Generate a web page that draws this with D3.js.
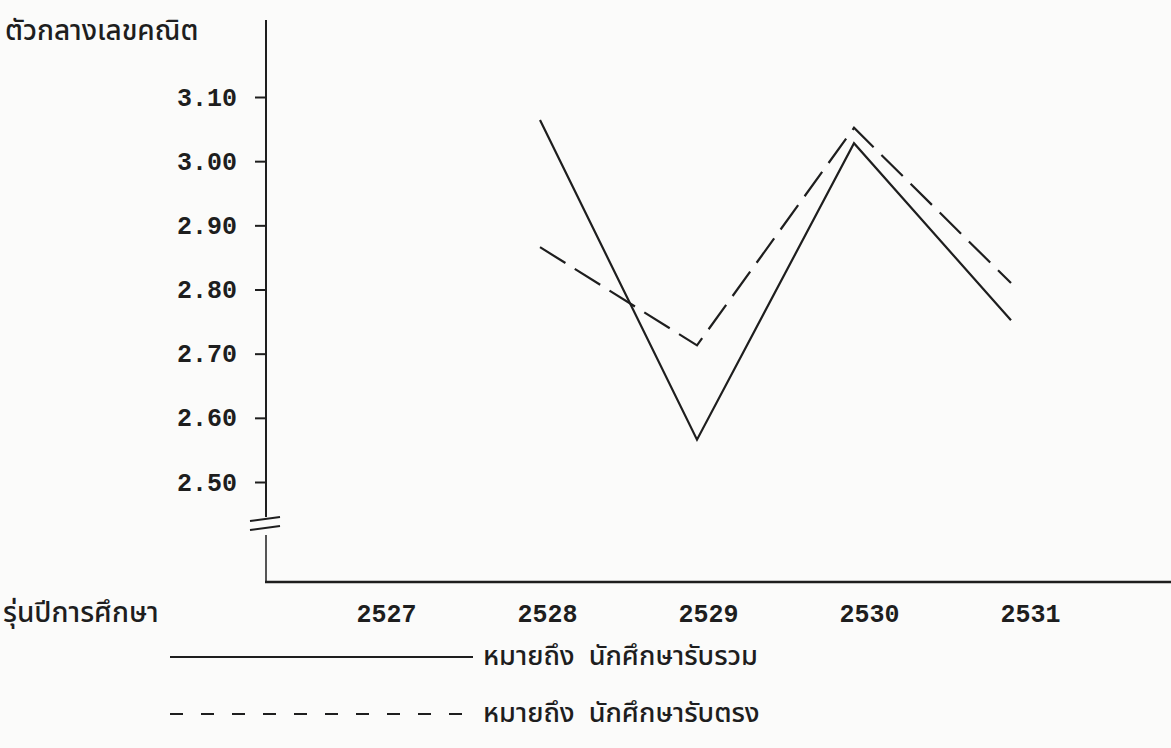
<!DOCTYPE html>
<html>
<head>
<meta charset="utf-8">
<script src="https://cdn.jsdelivr.net/npm/d3@7"></script>
<style>
  body { margin: 0; background: #fbfbfa; }
  .num { font-family: "Liberation Mono", "Courier New", monospace; font-weight: bold; font-size: 25px; fill: #1e1e1e; }
  .thai { font-family: "Noto Sans Thai", "Noto Sans", "DejaVu Sans", sans-serif; font-size: 28px; font-weight: 500; fill: #1e1e1e; }
  .leg { font-size: 27px; }
</style>
</head>
<body>
<div id="container"></div>
<script>
/* CONSTANTS AND GLOBALS */
const width = 1171;
const height = 748;

// DATA
const years = [2527, 2528, 2529, 2530, 2531];
const yTicks = [2.50, 2.60, 2.70, 2.80, 2.90, 3.00, 3.10];
const combined = [null, 3.064, 2.566, 3.028, 2.752];   // นักศึกษารับรวม
const direct   = [null, 2.866, 2.713, 3.052, 2.810];   // นักศึกษารับตรง
const seriesNames = ["นักศึกษารับรวม", "นักศึกษารับตรง"];

const axisX = 266;
const axisY = 582;

const svg = d3.select("#container")
  .append("svg")
  .attr("width", width)
  .attr("height", height);

// scales
const xScale = d3.scalePoint()
  .domain(years)
  .range([383, 1011]);

const xLabelScale = d3.scalePoint()
  .domain(years)
  .range([386, 1030]);

const yScale = d3.scaleLinear()
  .domain([2.50, 3.10])
  .range([482, 97]);

const ink = "#1e1e1e";

// Y axis line with break
svg.append("line")
  .attr("x1", axisX).attr("x2", axisX)
  .attr("y1", 20).attr("y2", 517)
  .attr("stroke", ink).attr("stroke-width", 2);
svg.append("line")
  .attr("x1", axisX).attr("x2", axisX)
  .attr("y1", 535).attr("y2", axisY)
  .attr("stroke", ink).attr("stroke-width", 1.5);
// break marks
[519, 528].forEach(y => {
  svg.append("line")
    .attr("x1", 250).attr("y1", y + 2)
    .attr("x2", 280).attr("y2", y - 2)
    .attr("stroke", ink).attr("stroke-width", 2);
});

// y ticks
const yAxis = d3.axisLeft(yScale)
  .tickValues(yTicks)
  .tickFormat(d3.format(".2f"))
  .tickSize(11)
  .tickPadding(18);
const gy = svg.append("g")
  .attr("transform", `translate(${axisX},0)`)
  .call(yAxis);
gy.select(".domain").remove();
gy.selectAll(".tick line").attr("stroke", ink).attr("stroke-width", 2);
gy.selectAll(".tick text").attr("class", "num").attr("fill", null);

// X axis line
svg.append("line")
  .attr("x1", axisX - 1).attr("x2", width)
  .attr("y1", axisY).attr("y2", axisY)
  .attr("stroke", ink).attr("stroke-width", 2.5);

const xAxis = d3.axisBottom(xLabelScale).tickSize(0).tickPadding(22);
const gx = svg.append("g")
  .attr("transform", `translate(0,${axisY})`)
  .call(xAxis);
gx.select(".domain").remove();
gx.selectAll(".tick text").attr("class", "num").attr("fill", null);

// axis titles
svg.append("text")
  .attr("class", "thai")
  .attr("x", 5).attr("y", 40)
  .text("ตัวกลางเลขคณิต");

svg.append("text")
  .attr("class", "thai")
  .attr("x", 3).attr("y", 622)
  .text("รุ่นปีการศึกษา");

// lines
const lineGen = d3.line()
  .defined(d => d.v !== null)
  .x(d => xScale(d.year))
  .y(d => yScale(d.v));

const toPts = arr => years.map((y, i) => ({year: y, v: arr[i]}));

svg.append("path")
  .datum(toPts(direct))
  .attr("fill", "none")
  .attr("stroke", ink)
  .attr("stroke-width", 2.2)
  .attr("stroke-dasharray", "30,11")
  .attr("d", lineGen);

svg.append("path")
  .datum(toPts(combined))
  .attr("fill", "none")
  .attr("stroke", ink)
  .attr("stroke-width", 2.2)
  .attr("d", lineGen);

// legend
const legend = svg.append("g");
const legRows = [
  {name: seriesNames[0], dash: null, y: 657},
  {name: seriesNames[1], dash: "13,18", y: 714}
];
legRows.forEach(r => {
  legend.append("line")
    .attr("x1", 170).attr("x2", 473)
    .attr("y1", r.y).attr("y2", r.y)
    .attr("stroke", ink).attr("stroke-width", 2)
    .attr("stroke-dasharray", r.dash);
  const t = legend.append("text")
    .attr("class", "thai leg")
    .attr("x", 483).attr("y", r.y + 8)
    .text("หมายถึง");
  const w = t.node().getComputedTextLength();
  legend.append("text")
    .attr("class", "thai leg")
    .attr("x", Math.max(565, 483 + w + 14)).attr("y", r.y + 8)
    .text(r.name);
});
</script>
</body>
</html>
